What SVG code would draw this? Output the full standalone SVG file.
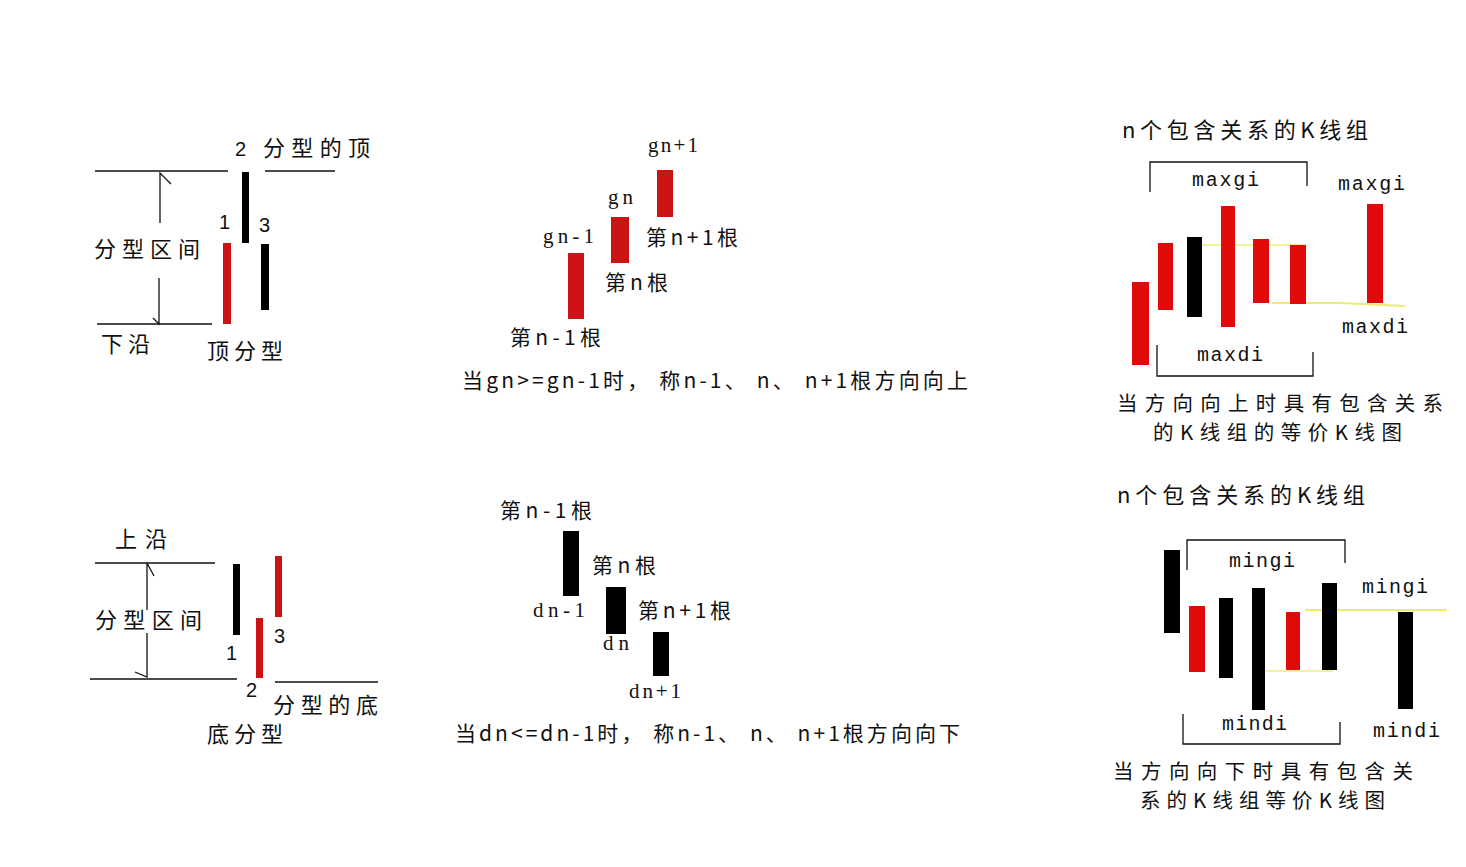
<svg xmlns="http://www.w3.org/2000/svg" width="1466" height="867" viewBox="0 0 1466 867">
<style>
.cn{font-family:"Noto Sans CJK SC","Liberation Sans",sans-serif;font-size:22px;fill:#111}
.cap{font-family:"Noto Sans CJK SC","Liberation Sans",sans-serif;font-size:20.5px;fill:#111}
.num{font-family:"Liberation Sans",sans-serif;font-size:20px;fill:#111}
.lat{font-family:"Liberation Serif",serif;font-size:21px;fill:#111}
.mono{font-family:"Liberation Mono",monospace;font-size:20px;fill:#111}
.ln{stroke:#111;stroke-width:1.3;fill:none}
.yl{stroke:#ecec70;stroke-width:2;fill:none}
.r{fill:#e00a0a}
.rd{fill:#cc1414}
.b{fill:#000}
</style>
<rect width="1466" height="867" fill="#fff"/>

<g id="connectors">
  <path class="ln" d="M95,171 H228 M265,171 H335 M97,324 H212"/>
  <path class="ln" d="M160,223 V173 L171,184 M159,278 V324 L153,318"/>
  <path class="ln" d="M95,563 H215 M90,679 H237 M275,682 H378"/>
  <path class="ln" d="M147,610 V563 L154,576 M147,633 V677 L135,672"/>
  <path class="ln" d="M1150,192 V162 H1307 V186 M1157,345 V376 H1313 V352"/>
  <path class="ln" d="M1187,570 V540 H1345 V563 M1183,714 V744 H1340 V722"/>
  <path class="yl" d="M1272,303 H1340 L1405,306"/>
  <path class="yl" d="M1187,245 H1306" stroke-width="1" opacity="0.7"/>
  <path class="yl" d="M1305,610 H1447"/>
  <path class="yl" d="M1258,671 H1333" stroke-width="1.2" opacity="0.7"/>
</g>

<g id="top-fractal">
  <rect class="b" x="242" y="172" width="7" height="71"/>
  <rect class="rd" x="223" y="243" width="8" height="81"/>
  <rect class="b" x="261" y="244" width="8" height="66"/>
  <text class="num" x="235" y="156">2</text>
  <text class="cn" x="263" y="156" textLength="107" lengthAdjust="spacing">分型的顶</text>
  <text class="num" x="219" y="229">1</text>
  <text class="num" x="259" y="232">3</text>
  <text class="cn" x="94" y="257" textLength="106" lengthAdjust="spacing">分型区间</text>
  <text class="cn" x="101" y="352" textLength="49" lengthAdjust="spacing">下沿</text>
  <text class="cn" x="207" y="359" textLength="76" lengthAdjust="spacing">顶分型</text>
</g>

<g id="bottom-fractal">
  <rect class="b" x="233" y="564" width="7" height="71"/>
  <rect class="rd" x="256" y="618" width="7" height="60"/>
  <rect class="rd" x="275" y="556" width="7" height="61"/>
  <text class="cn" x="115" y="547" textLength="52" lengthAdjust="spacing">上沿</text>
  <text class="cn" x="95" y="628" textLength="107" lengthAdjust="spacing">分型区间</text>
  <text class="num" x="226" y="660">1</text>
  <text class="num" x="274" y="643">3</text>
  <text class="num" x="246" y="697">2</text>
  <text class="cn" x="273" y="713" textLength="105" lengthAdjust="spacing">分型的底</text>
  <text class="cn" x="207" y="742" textLength="76" lengthAdjust="spacing">底分型</text>
</g>

<g id="up-direction">
  <rect class="rd" x="657" y="170" width="16" height="47"/>
  <rect class="rd" x="611" y="217" width="18" height="46"/>
  <rect class="rd" x="568" y="253" width="16" height="66"/>
  <text class="lat" x="648" y="152" textLength="50" lengthAdjust="spacing">gn+1</text>
  <text class="lat" x="608" y="204" textLength="25" lengthAdjust="spacing">gn</text>
  <text class="lat" x="543" y="243" textLength="51" lengthAdjust="spacing">gn-1</text>
  <text class="cn" x="646" y="245" style="font-size:21px" textLength="92" lengthAdjust="spacing">第n+1根</text>
  <text class="cn" x="605" y="290" style="font-size:21px" textLength="63" lengthAdjust="spacing">第n根</text>
  <text class="cn" x="510" y="345" style="font-size:21px" textLength="91" lengthAdjust="spacing">第n-1根</text>
  <text class="cn" x="462" y="388" style="font-size:21px" textLength="506" lengthAdjust="spacing">当gn&gt;=gn-1时， 称n-1、 n、 n+1根方向向上</text>
</g>

<g id="down-direction">
  <rect class="b" x="563" y="531" width="16" height="65"/>
  <rect class="b" x="606" y="587" width="20" height="47"/>
  <rect class="b" x="653" y="632" width="16" height="44"/>
  <text class="cn" x="500" y="518" style="font-size:21px" textLength="92" lengthAdjust="spacing">第n-1根</text>
  <text class="cn" x="592" y="573" style="font-size:21px" textLength="64" lengthAdjust="spacing">第n根</text>
  <text class="cn" x="638" y="618" style="font-size:21px" textLength="93" lengthAdjust="spacing">第n+1根</text>
  <text class="lat" x="533" y="617" textLength="52" lengthAdjust="spacing">dn-1</text>
  <text class="lat" x="603" y="650" textLength="26" lengthAdjust="spacing">dn</text>
  <text class="lat" x="629" y="698" textLength="52" lengthAdjust="spacing">dn+1</text>
  <text class="cn" x="455" y="741" style="font-size:21px" textLength="505" lengthAdjust="spacing">当dn&lt;=dn-1时， 称n-1、 n、 n+1根方向向下</text>
</g>

<g id="inclusion-up">
  <text class="cn" x="1122" y="138" textLength="246" lengthAdjust="spacing">n个包含关系的K线组</text>
  <rect class="r" x="1132" y="282" width="17" height="83"/>
  <rect class="r" x="1158" y="243" width="15" height="67"/>
  <rect class="b" x="1187" y="237" width="15" height="80"/>
  <rect class="r" x="1221" y="206" width="14" height="121"/>
  <rect class="r" x="1253" y="239" width="16" height="64"/>
  <rect class="r" x="1290" y="245" width="16" height="59"/>
  <rect class="r" x="1367" y="204" width="16" height="99"/>
  <text class="mono" x="1192" y="186" textLength="67" lengthAdjust="spacing">maxgi</text>
  <text class="mono" x="1338" y="190" textLength="67" lengthAdjust="spacing">maxgi</text>
  <text class="mono" x="1342" y="333" textLength="66" lengthAdjust="spacing">maxdi</text>
  <text class="mono" x="1197" y="361" textLength="66" lengthAdjust="spacing">maxdi</text>
  <text class="cap" x="1117" y="411" textLength="326" lengthAdjust="spacing">当方向向上时具有包含关系</text>
  <text class="cap" x="1153" y="440" textLength="249" lengthAdjust="spacing">的K线组的等价K线图</text>
</g>

<g id="inclusion-down">
  <text class="cn" x="1117" y="503" textLength="248" lengthAdjust="spacing">n个包含关系的K线组</text>
  <rect class="b" x="1164" y="550" width="16" height="83"/>
  <rect class="r" x="1189" y="606" width="16" height="66"/>
  <rect class="b" x="1219" y="598" width="14" height="80"/>
  <rect class="b" x="1252" y="588" width="13" height="122"/>
  <rect class="r" x="1286" y="612" width="14" height="58"/>
  <rect class="b" x="1322" y="583" width="15" height="87"/>
  <rect class="b" x="1398" y="612" width="15" height="97"/>
  <text class="mono" x="1229" y="567" textLength="66" lengthAdjust="spacing">mingi</text>
  <text class="mono" x="1362" y="593" textLength="66" lengthAdjust="spacing">mingi</text>
  <text class="mono" x="1222" y="730" textLength="65" lengthAdjust="spacing">mindi</text>
  <text class="mono" x="1373" y="737" textLength="67" lengthAdjust="spacing">mindi</text>
  <text class="cap" x="1113" y="779" textLength="300" lengthAdjust="spacing">当方向向下时具有包含关</text>
  <text class="cap" x="1140" y="808" textLength="245" lengthAdjust="spacing">系的K线组等价K线图</text>
</g>
</svg>
